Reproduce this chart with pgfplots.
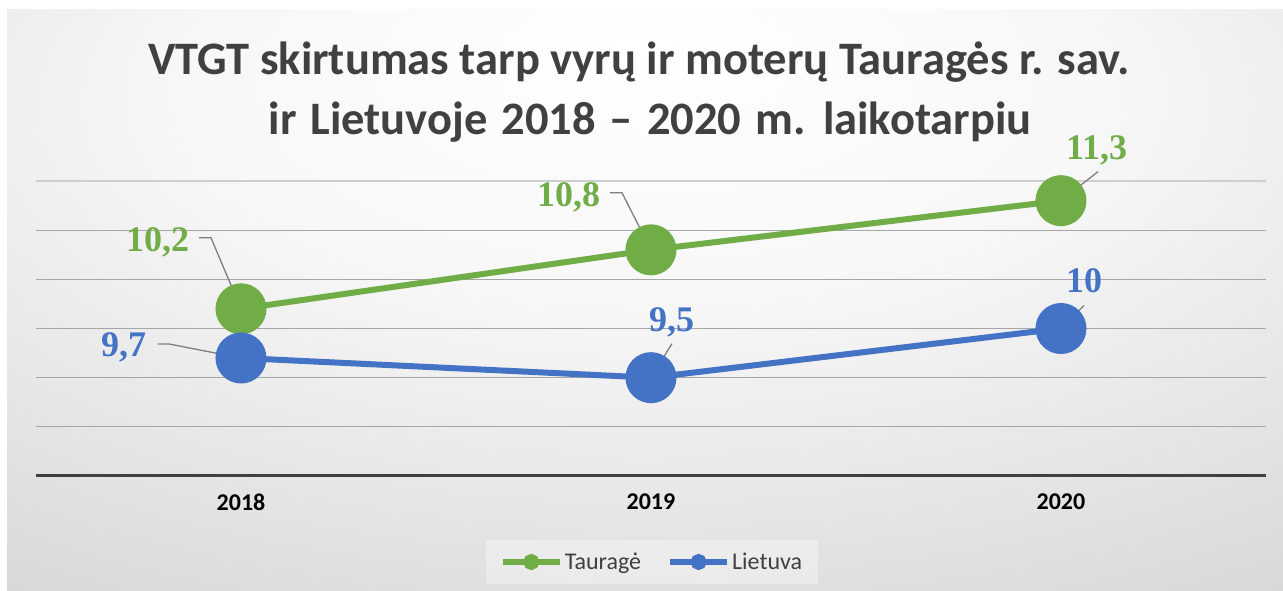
\documentclass[border=0pt]{standalone}
\usepackage{fontspec}
\setmainfont{Carlito}
\newfontfamily\lblfont{Liberation Serif}
\usepackage{pgfplots}
\pgfplotsset{compat=1.18}
\definecolor{tgreen}{HTML}{70AD47}
\definecolor{lblue}{HTML}{4472C4}
\definecolor{txtgray}{HTML}{404040}
\definecolor{gridgray}{HTML}{A6A6A6}
\definecolor{leader}{HTML}{7F7F7F}
\definecolor{bgedge}{HTML}{C4C4C4}
\pgfdeclareradialshading{bgshade}{\pgfpoint{0bp}{22bp}}{%
  color(0bp)=(white); color(18bp)=(white!97!black);
  color(62bp)=(bgedge); color(100bp)=(bgedge!92!black)}

\begin{document}
\begin{tikzpicture}
\useasboundingbox (0pt,0pt) rectangle (1283pt,591pt);
\fill[white] (0pt,0pt) rectangle (1283pt,591pt);
\shade[shading=bgshade] (7pt,0pt) rectangle (1283pt,581pt);

% title, two lines
\node[font=\bfseries\fontsize{46.5}{50}\selectfont, text=txtgray, anchor=base, inner sep=0pt]
  at (639pt,516pt) {VTGT skirtumas tarp vyrų ir moterų Tauragės r. sav.};
\node[font=\bfseries\fontsize{46.5}{50}\selectfont, text=txtgray, anchor=base, inner sep=0pt]
  at (650pt,456pt) {\spaceskip=14pt ir Lietuvoje 2018 – 2020 m. laikotarpiu};

\begin{axis}[
  at={(36pt,115pt)}, anchor=south west,
  scale only axis, width=1230pt, height=295pt,
  xmin=2017.5, xmax=2020.5, ymin=8.5, ymax=11.5,
  axis x line*=bottom, axis y line*=left,
  x axis line style={-, line width=3pt, color=txtgray},
  y axis line style={draw=none},
  xtick={2018,2019,2020}, xticklabels={2018,2019,2020},
  major tick length=0pt,
  xticklabel style={font=\bfseries\fontsize{24}{24}\selectfont, text=black, yshift=-14pt},
  ytick={9,9.5,10,10.5,11}, yticklabels={},
  extra y ticks={11.5}, extra y tick labels={},
  extra y tick style={grid style={gridgray!55, line width=1.3pt}},
  ymajorgrids, grid style={gridgray, line width=1.3pt},
  clip=false,
  legend columns=2,
  legend style={at={(0.5008,-0.2915)}, anchor=center, draw=none,
    fill=white, fill opacity=0.35, text opacity=1,
    font=\fontsize{24}{24}\selectfont, text=txtgray,
    inner xsep=14pt, inner ysep=11pt,
    nodes={inner sep=2pt},
    /tikz/every even column/.append style={column sep=24pt}},
  legend image code/.code={
    \draw[#1, mark=none, line width=6pt] (0pt,0pt) -- (57pt,0pt);
    \draw[#1, mark size=5pt] plot coordinates {(28.5pt,0pt)};
  },
]
\addplot[tgreen, line width=6pt, mark=*, mark size=22.5pt,
  mark options={draw=none, fill=tgreen}]
  coordinates {(2018,10.2) (2019,10.8) (2020,11.3)};
\addlegendentry{Tauragė}
\addplot[lblue, line width=6pt, mark=*, mark size=22.5pt,
  mark options={draw=none, fill=lblue}]
  coordinates {(2018,9.7) (2019,9.5) (2020,10)};
\addlegendentry{Lietuva}

% leader lines
\draw[leader, line width=1.3pt] (axis cs:2018,10.2) -- ++(-30pt,71pt) -- ++(-12pt,0pt);
\draw[leader, line width=1.3pt] (axis cs:2018,9.7) -- ++(-72pt,14pt) -- ++(-11pt,0pt);
\draw[leader, line width=1.3pt] (axis cs:2019,10.8) -- ++(-29pt,57pt) -- ++(-12pt,0pt);
\draw[leader, line width=1.3pt] (axis cs:2019,9.5) -- ++(21pt,34pt);
\draw[leader, line width=1.3pt] (axis cs:2020,11.3) -- ++(37pt,29pt);
\draw[leader, line width=1.3pt] (axis cs:2020,10) -- ++(23pt,23pt);

% data labels
\tikzset{dl/.style={font=\lblfont\bfseries\fontsize{36}{36}\selectfont, anchor=base west, inner sep=0pt}}
\node[dl, text=tgreen] at ([shift={(-115pt,57pt)}]axis cs:2018,10.2) {10,2};
\node[dl, text=lblue] at ([shift={(-140pt,1pt)}]axis cs:2018,9.7) {9,7};
\node[dl, text=tgreen] at ([shift={(-114pt,43pt)}]axis cs:2019,10.8) {10,8};
\node[dl, text=lblue] at ([shift={(-2pt,46pt)}]axis cs:2019,9.5) {9,5};
\node[dl, text=tgreen] at ([shift={(5pt,41pt)}]axis cs:2020,11.3) {11,3};
\node[dl, text=lblue] at ([shift={(5pt,36pt)}]axis cs:2020,10) {10};
\end{axis}
\end{tikzpicture}
\end{document}
